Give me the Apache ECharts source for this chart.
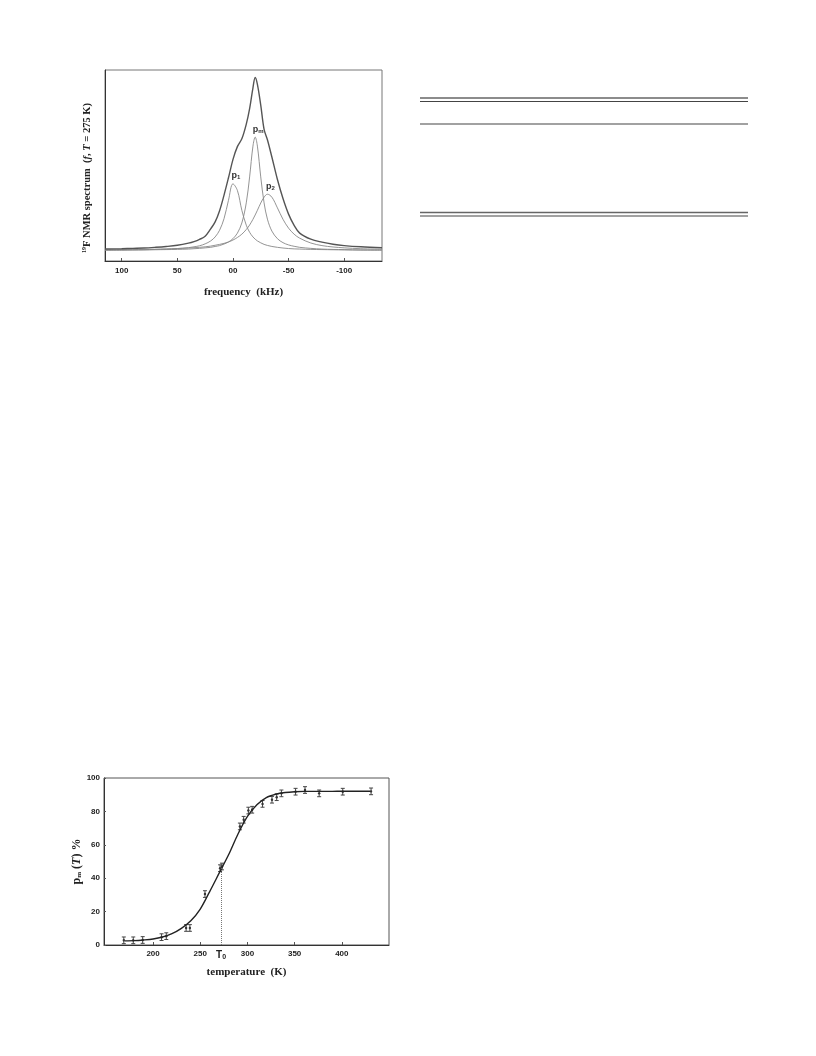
<!DOCTYPE html>
<html>
<head>
<meta charset="utf-8">
<script src="https://cdn.jsdelivr.net/npm/echarts@6/dist/echarts.min.js"></script>
<style>
  html, body { margin: 0; padding: 0; background: #fff; }
  #chart { width: 816px; height: 1056px; }
</style>
</head>
<body>
<div id="chart"></div>
<script>
// ---------- Top chart: 19F NMR spectrum at T = 275 K ----------
const freq = [115,100,90,80,70,60,50,40,35,30,25,20,16,12,8,4,0,-4,-8,-12,-15,-18,-20,-22,-25,-28,-31,-35,-40,-45,-50,-55,-60,-70,-80,-90,-100,-115,-134];
const specTotal = [0.008,0.010,0.012,0.014,0.018,0.023,0.030,0.042,0.051,0.064,0.082,0.125,0.165,0.23,0.32,0.42,0.525,0.60,0.645,0.73,0.82,0.94,1.0,0.96,0.84,0.70,0.64,0.54,0.41,0.30,0.21,0.145,0.10,0.065,0.048,0.036,0.028,0.021,0.016];
const specP1 = [0.002,0.003,0.003,0.004,0.006,0.007,0.011,0.016,0.021,0.027,0.038,0.055,0.078,0.117,0.184,0.290,0.385,0.347,0.232,0.146,0.105,0.078,0.065,0.055,0.044,0.035,0.029,0.023,0.018,0.014,0.011,0.009,0.008,0.006,0.005,0.004,0.003,0.002,0.002];
const specPm = [0.002,0.002,0.003,0.003,0.004,0.005,0.006,0.008,0.010,0.012,0.015,0.018,0.023,0.028,0.037,0.049,0.068,0.100,0.159,0.275,0.425,0.603,0.655,0.603,0.425,0.275,0.181,0.112,0.068,0.045,0.032,0.024,0.018,0.012,0.008,0.006,0.005,0.003,0.002];
const specP2 = [0.003,0.004,0.005,0.006,0.007,0.009,0.011,0.014,0.016,0.018,0.021,0.025,0.030,0.035,0.041,0.049,0.060,0.075,0.094,0.121,0.147,0.180,0.205,0.232,0.274,0.308,0.325,0.308,0.246,0.180,0.129,0.094,0.071,0.043,0.028,0.020,0.015,0.010,0.007];
const freqTicks = [100,50,0,-50,-100];

// ---------- Bottom chart: p_m(T) % ----------
const tempPts = [169,179,189,209,214,235,239,255,271,273,292,296,301,305,316,326,331,336,351,361,376,401,431];
const pmPts   = [2.8,2.8,3.0,4.7,5.3,10.2,10.2,30.5,46,47,71,75,80.5,81,84.5,87,88.5,90.8,91.8,92.8,90.8,91.8,92];
const pmErr   = [2,2,2,2,2,2,2,2,2,2,2,2,2,2,2,2,2,2,2,2,2,2,2];
const fitT  = [170,180,190,200,210,220,230,240,250,260,270,280,290,300,310,320,330,340,350,360,370,380,390,400,410,420,430];
const fitPm = [2.5,2.6,3.0,3.6,4.8,6.8,10.0,14.5,21.5,32,43,54,66.5,77,84,88.3,90.3,91.3,91.8,92,92,92,92,92.1,92.1,92.1,92.1];
const T0 = 272;
const pmAtT0 = 46;
const tempTicks = [200,250,300,350,400];
const tempLabels = [200,250,272,300,350,400];

const pair = (xs, ys) => xs.map((x, i) => [x, ys[i]]);
const tickFont = { fontFamily: 'Liberation Sans', fontWeight: 'bold', fontSize: 8, color: '#222' };
const nameFont = { fontFamily: 'Liberation Serif', fontWeight: 'bold', fontSize: 11, color: '#222' };

function peakLabel(sub) {
  return {
    symbol: 'circle', symbolSize: 0,
    data: [{ type: 'max' }],
    label: {
      show: true, position: 'top', distance: 3, offset: [3, 0],
      formatter: '{p|p}{s|' + sub + '}',
      rich: {
        p: { fontFamily: 'Liberation Sans', fontWeight: 'bold', fontSize: 9, color: '#333' },
        s: { fontFamily: 'Liberation Sans', fontWeight: 'bold', fontSize: 6, color: '#333', verticalAlign: 'bottom', padding: [4, 0, 0, 0] }
      }
    }
  };
}

const chart = echarts.init(document.getElementById('chart'), null, { renderer: 'canvas' });

const option = {
  animation: false,
  backgroundColor: '#fff',
  grid: [
    { left: 105, top: 70, width: 277, height: 191, show: true, borderColor: '#777', borderWidth: 1 },
    { left: 104, top: 778, width: 285, height: 167, show: true, borderColor: '#555', borderWidth: 1 }
  ],
  xAxis: [
    {
      gridIndex: 0, type: 'value', inverse: true, min: -134, max: 115,
      axisLine: { onZero: false, lineStyle: { color: '#333', width: 1 } },
      axisTick: { show: true, inside: true, length: 3, customValues: freqTicks, lineStyle: { color: '#555' } },
      axisLabel: { margin: 6, customValues: freqTicks, formatter: v => (v === 0 ? '00' : String(v)), ...tickFont },
      splitLine: { show: false },
      name: 'frequency  (kHz)', nameLocation: 'middle', nameGap: 26, nameTextStyle: nameFont
    },
    {
      gridIndex: 1, type: 'value', min: 148, max: 450,
      axisLine: { onZero: false, lineStyle: { color: '#333', width: 1 } },
      axisTick: { show: true, inside: true, length: 3, customValues: tempTicks, lineStyle: { color: '#555' } },
      axisLabel: {
        margin: 5, customValues: tempLabels, ...tickFont,
        formatter: v => (v === T0 ? '{t|T}{s|0}' : String(v)),
        rich: {
          t: { fontFamily: 'Liberation Sans', fontWeight: 'bold', fontSize: 10, color: '#222' },
          s: { fontFamily: 'Liberation Sans', fontWeight: 'bold', fontSize: 7, color: '#222', padding: [4, 0, 0, 0] }
        }
      },
      splitLine: { show: false },
      name: 'temperature  (K)', nameLocation: 'middle', nameGap: 22, nameTextStyle: nameFont
    }
  ],
  yAxis: [
    {
      gridIndex: 0, type: 'value', min: -0.061, max: 1.043,
      axisLine: { show: true, onZero: false, lineStyle: { color: '#333' } },
      axisTick: { show: false }, axisLabel: { show: false }, splitLine: { show: false }
    },
    {
      gridIndex: 1, type: 'value', min: 0, max: 100, interval: 20,
      axisLine: { show: true, onZero: false, lineStyle: { color: '#333' } },
      axisTick: { show: true, inside: true, length: 2, lineStyle: { color: '#555' } },
      axisLabel: { margin: 4, ...tickFont },
      splitLine: { show: false },
      name: '{p|p}{s|m}{n| (}{i|T}{n|) %}', nameLocation: 'middle', nameGap: 21, nameRotate: 90,
      nameTextStyle: {
        rich: {
          p: { fontFamily: 'Liberation Serif', fontWeight: 'bold', fontSize: 12, color: '#222' },
          s: { fontFamily: 'Liberation Serif', fontWeight: 'bold', fontSize: 7, color: '#222', padding: [5, 0, 0, 0] },
          n: { fontFamily: 'Liberation Serif', fontWeight: 'bold', fontSize: 12, color: '#222' },
          i: { fontFamily: 'Liberation Serif', fontWeight: 'bold', fontStyle: 'italic', fontSize: 12, color: '#222' }
        }
      }
    }
  ],
  series: [
    {
      name: 'total', type: 'line', xAxisIndex: 0, yAxisIndex: 0, smooth: 0.35,
      data: pair(freq, specTotal), showSymbol: false, z: 5,
      lineStyle: { color: '#555', width: 1.4 }
    },
    {
      name: 'p1', type: 'line', xAxisIndex: 0, yAxisIndex: 0, smooth: 0.35,
      data: pair(freq, specP1), showSymbol: false,
      lineStyle: { color: '#888', width: 0.9 }, markPoint: peakLabel('1')
    },
    {
      name: 'pm', type: 'line', xAxisIndex: 0, yAxisIndex: 0, smooth: 0.35,
      data: pair(freq, specPm), showSymbol: false,
      lineStyle: { color: '#888', width: 0.9 }, markPoint: peakLabel('m')
    },
    {
      name: 'p2', type: 'line', xAxisIndex: 0, yAxisIndex: 0, smooth: 0.35,
      data: pair(freq, specP2), showSymbol: false,
      lineStyle: { color: '#888', width: 0.9 }, markPoint: peakLabel('2')
    },
    {
      name: 'fit', type: 'line', xAxisIndex: 1, yAxisIndex: 1, smooth: 0.3,
      data: pair(fitT, fitPm), showSymbol: false,
      lineStyle: { color: '#222', width: 1.4 },
      markLine: {
        symbol: 'none', silent: true, label: { show: false },
        lineStyle: { color: '#777', type: 'dotted', width: 1 },
        data: [[{ coord: [T0, 0] }, { coord: [T0, pmAtT0] }]]
      }
    },
    {
      name: 'errors', type: 'custom', xAxisIndex: 1, yAxisIndex: 1,
      data: tempPts.map((t, i) => [t, pmPts[i], pmErr[i]]),
      encode: { x: 0, y: 1 },
      renderItem: function (params, api) {
        const x = api.value(0), y = api.value(1), e = api.value(2);
        const top = api.coord([x, y + e]);
        const bot = api.coord([x, y - e]);
        const c = api.coord([x, y]);
        const w = 2;
        const st = { stroke: '#444', lineWidth: 1 };
        return {
          type: 'group',
          children: [
            { type: 'line', shape: { x1: top[0], y1: top[1], x2: bot[0], y2: bot[1] }, style: st },
            { type: 'line', shape: { x1: top[0] - w, y1: top[1], x2: top[0] + w, y2: top[1] }, style: st },
            { type: 'line', shape: { x1: bot[0] - w, y1: bot[1], x2: bot[0] + w, y2: bot[1] }, style: st },
            { type: 'circle', shape: { cx: c[0], cy: c[1], r: 1.2 }, style: { fill: '#333' } }
          ]
        };
      }
    }
  ],
  graphic: [
    {
      type: 'text', x: 87, y: 178, rotation: Math.PI / 2,
      style: {
        text: '{sup|19}{b|F NMR spectrum  (}{i|f}{b|, }{i|T}{b| = 275 K)}',
        align: 'center', verticalAlign: 'middle',
        rich: {
          sup: { fontFamily: 'Liberation Serif', fontWeight: 'bold', fontSize: 6, fill: '#222', padding: [0, 0, 5, 0] },
          b: { fontFamily: 'Liberation Serif', fontWeight: 'bold', fontSize: 10.5, fill: '#222' },
          i: { fontFamily: 'Liberation Serif', fontWeight: 'bold', fontStyle: 'italic', fontSize: 10.5, fill: '#222' }
        }
      }
    },
    { type: 'line', shape: { x1: 420, y1: 98, x2: 748, y2: 98 }, style: { stroke: '#666', lineWidth: 1.5 } },
    { type: 'line', shape: { x1: 420, y1: 101.5, x2: 748, y2: 101.5 }, style: { stroke: '#444', lineWidth: 1 } },
    { type: 'line', shape: { x1: 420, y1: 124, x2: 748, y2: 124 }, style: { stroke: '#444', lineWidth: 1.2 } },
    { type: 'line', shape: { x1: 420, y1: 212.5, x2: 748, y2: 212.5 }, style: { stroke: '#666', lineWidth: 1.5 } },
    { type: 'line', shape: { x1: 420, y1: 216, x2: 748, y2: 216 }, style: { stroke: '#444', lineWidth: 1 } }
  ]
};

chart.setOption(option);
</script>
</body>
</html>
